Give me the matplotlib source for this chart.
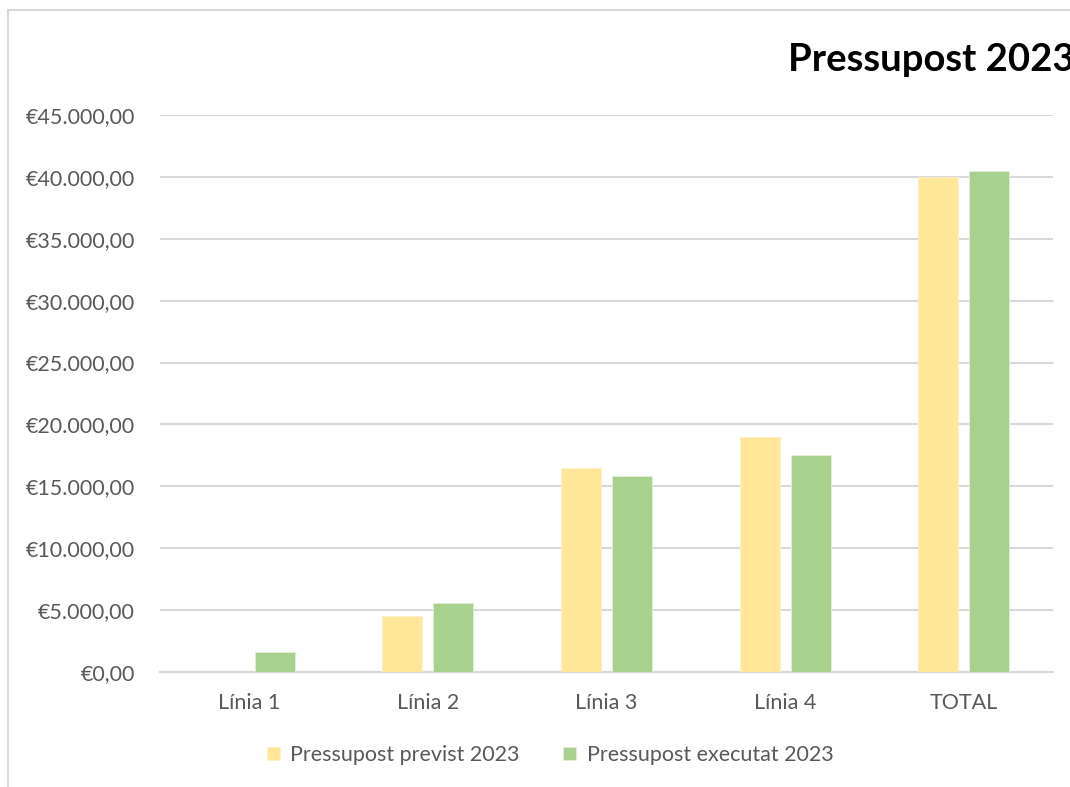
import numpy as np
import matplotlib
matplotlib.use("Agg")
import matplotlib.pyplot as plt
from matplotlib.patches import Rectangle
from matplotlib.ticker import FuncFormatter, MultipleLocator

categories = ["Línia 1", "Línia 2", "Línia 3", "Línia 4", "TOTAL"]
previst = [0, 4500, 16500, 19000, 40000]
executat = [1600, 5600, 15800, 17500, 40500]
series_names = ["Pressupost previst 2023", "Pressupost executat 2023"]

plt.rcParams['font.family'] = ['Lato', 'DejaVu Sans']

fig = plt.figure(figsize=(10.70, 7.87), dpi=100)
# outer chart border (cut at right/bottom like the reference)
fig.patches.append(Rectangle((8/1070, -0.1), 1.2, 1 - 10/787 + 0.1, transform=fig.transFigure,
                             fill=False, ec="#d9d9d9", lw=1.5))

ax = fig.add_axes([160/1070, 1 - 672/787, 893/1070, 557/787])
x = np.arange(len(categories))
w = 0.224
ax.bar(x - 0.143, previst, w, color="#FFE699", edgecolor="#FFF2CC", lw=0.6, label=series_names[0], zorder=3)
ax.bar(x + 0.143, executat, w, color="#A9D18E", edgecolor="#E2F0D9", lw=0.6, label=series_names[1], zorder=3)

ax.set_xlim(-0.5, len(categories) - 0.5)
ax.set_ylim(0, 45000)
ax.yaxis.set_major_locator(MultipleLocator(5000))
ax.yaxis.set_major_formatter(FuncFormatter(
    lambda v, p: "€" + f"{v:,.2f}".replace(",", "X").replace(".", ",").replace("X", ".")))
ax.grid(axis="y", color="#d9d9d9", lw=1.5, zorder=0)
for s in ["top", "right", "left"]:
    ax.spines[s].set_visible(False)
ax.spines["bottom"].set_color("#d9d9d9")
ax.spines["bottom"].set_linewidth(1.5)
ax.set_xticks(x)
ax.set_xticklabels(categories)
ax.tick_params(axis="both", length=0, labelsize=15.5, colors="#595959")
ax.tick_params(axis="x", pad=15)
ax.tick_params(axis="y", pad=18)

fig.text(788/1070, 1 - 60/787, "Pressupost 2023", fontsize=27.5, fontweight="bold",
         ha="left", va="center", color="black")

fig.legend(loc="center", bbox_to_anchor=(550/1070, 1 - 755/787), ncol=2, frameon=False,
           fontsize=15.5, handlelength=0.6, handleheight=0.6, handletextpad=0.5,
           columnspacing=2.0, labelcolor="#595959")

fig.savefig("out.png", dpi=100)
